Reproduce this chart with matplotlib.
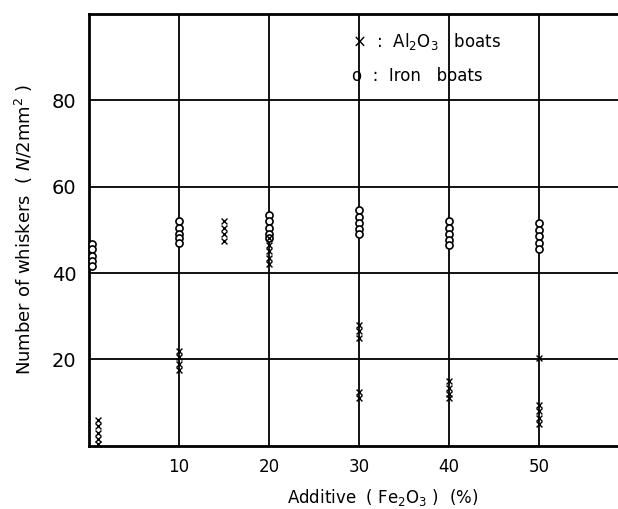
import matplotlib
matplotlib.use("Agg")
import matplotlib.pyplot as plt

# Al2O3 boats (crosses)
al_x = [1, 1, 1, 1, 1,
        10, 10, 10, 10,
        15, 15, 15, 15,
        20, 20, 20, 20, 20,
        30, 30, 30, 30, 30,
        40, 40, 40, 40,
        50, 50, 50, 50, 50]
al_y = [6.0, 4.5, 3.0, 1.5, 0.5,
        22.0, 20.5, 19.0, 17.5,
        52.0, 50.5, 49.0, 47.5,
        48.0, 46.5, 45.0, 43.5, 42.0,
        28.0, 26.5, 25.0, 12.5, 11.0,
        15.0, 13.5, 12.0, 11.0,
        20.3, 9.5, 8.0, 6.5, 5.0]

# Iron boats (circles)
fe_x = [0.3, 0.3, 0.3, 0.3, 0.3,
        10, 10, 10, 10, 10,
        20, 20, 20, 20, 20,
        30, 30, 30, 30, 30,
        40, 40, 40, 40, 40,
        50, 50, 50, 50, 50]
fe_y = [46.8, 45.5, 44.0, 42.8, 41.6,
        52.0, 50.5, 49.0, 48.0, 47.0,
        53.5, 52.0, 50.5, 49.0, 48.0,
        54.5, 53.0, 51.5, 50.2, 49.0,
        52.0, 50.5, 49.0, 47.6, 46.4,
        51.5, 50.0, 48.5, 47.0, 45.6]

x_ticks = [10, 20, 30, 40, 50]
y_ticks = [20, 40, 60, 80]

plt.rcParams['font.family'] = ['DejaVu Sans']

fig = plt.figure(figsize=(6.18, 5.09), dpi=100)
ax = fig.add_axes([0.144, 0.124, 0.856, 0.849])
ax.set_xlim(0, 58.8)
ax.set_ylim(0, 100)

for xv in x_ticks:
    ax.axvline(xv, color='black', lw=1.3, zorder=1)
for yv in y_ticks:
    ax.axhline(yv, color='black', lw=1.3, zorder=1)

ax.scatter(fe_x, fe_y, marker='o', s=26, facecolors='white',
           edgecolors='black', linewidths=1.2, zorder=3, clip_on=False)
ax.scatter(al_x, al_y, marker='x', s=18, color='black',
           linewidths=1.0, zorder=4, clip_on=False)

ax.set_xticks(x_ticks)
ax.set_yticks(y_ticks)
ax.set_xticklabels([str(v) for v in x_ticks], fontsize=12)
ax.set_yticklabels([str(v) for v in y_ticks], fontsize=14)
ax.tick_params(axis='x', length=0, pad=9)
ax.tick_params(axis='y', length=0, pad=9)

ax.spines['right'].set_visible(False)
for s in ['left', 'bottom', 'top']:
    ax.spines[s].set_linewidth(2.0)

ax.set_xlabel('Additive  ( Fe$_2$O$_3$ )  (%)', fontsize=12, labelpad=8)
ax.xaxis.set_label_coords(0.556, -0.095)
ax.set_ylabel('Number of whiskers  ( $N$/2mm$^2$ )', fontsize=13, labelpad=12)

ax.text(29.2, 93.5, '×  :  Al$_2$O$_3$   boats', fontsize=12, va='center', ha='left')
ax.text(29.2, 85.6, 'o  :  Iron   boats', fontsize=12, va='center', ha='left')

fig.savefig('out.png', dpi=100)
